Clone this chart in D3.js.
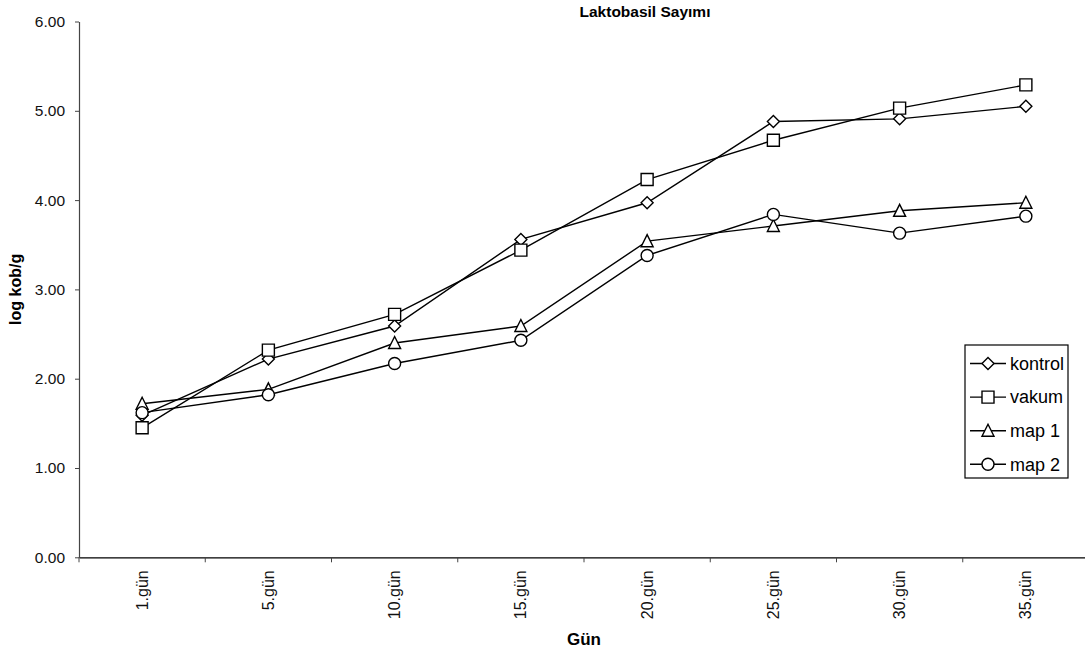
<!DOCTYPE html>
<html>
<head>
<meta charset="utf-8">
<script src="https://cdn.jsdelivr.net/npm/d3@7"></script>
<style>
  html, body { margin: 0; padding: 0; background: #fff; }
  svg { display: block; font-family: "Liberation Sans", Arial, sans-serif; }
</style>
</head>
<body>
<svg id="chart" width="1085" height="650"></svg>
<script>
// Sampling days (category axis)
const categories = ["1.gün", "5.gün", "10.gün", "15.gün", "20.gün", "25.gün", "30.gün", "35.gün"];

// Lactobacillus counts, log cfu/g
const kontrol = [1.59, 2.22, 2.59, 3.56, 3.97, 4.88, 4.91, 5.05];
const vakum   = [1.45, 2.32, 2.72, 3.44, 4.23, 4.67, 5.03, 5.29];
const map1    = [1.72, 1.88, 2.40, 2.59, 3.54, 3.71, 3.88, 3.97];
const map2    = [1.62, 1.82, 2.17, 2.43, 3.38, 3.84, 3.63, 3.82];

const seriesNames = ["kontrol", "vakum", "map 1", "map 2"];
const seriesShapes = ["diamond", "square", "triangle", "circle"];
const yTicks = [0, 1, 2, 3, 4, 5, 6];

const series = [kontrol, vakum, map1, map2].map((values, i) => ({
  name: seriesNames[i], shape: seriesShapes[i], values
}));

const svg = d3.select("#chart");

// Plot area (the category axis runs on past the right edge of the view)
const plot = { left: 79, right: 1089, top: 21.5, bottom: 557.3 };

const x = d3.scaleBand().domain(categories).range([plot.left, plot.right]).paddingInner(0).paddingOuter(0);
const y = d3.scaleLinear().domain([0, 6]).range([plot.bottom, plot.top]);
const cx = c => x(c) + x.bandwidth() / 2;

// Marker path generators, centred on 0,0
function markerPath(shape) {
  const s = 6;
  switch (shape) {
    case "diamond":  return `M0,${-s}L${s},0L0,${s}L${-s},0Z`;
    case "square":   return `M${-s},${-s}H${s}V${s}H${-s}Z`;
    case "triangle": return `M0,${-s - 0.5}L${s},${s - 0.5}L${-s},${s - 0.5}Z`;
    default:         return d3.arc()({ innerRadius: 0, outerRadius: s, startAngle: 0, endAngle: 2 * Math.PI });
  }
}

// Y axis
const yAxis = d3.axisLeft(y).tickValues(yTicks).tickFormat(d3.format(".2f")).tickSizeOuter(0).tickSizeInner(4).tickPadding(10);
const gy = svg.append("g").attr("transform", `translate(${plot.left},0)`).call(yAxis);
gy.select(".domain").attr("stroke", "#444").attr("stroke-width", 1.2);
gy.selectAll(".tick line").attr("stroke", "#444");
gy.selectAll(".tick text").attr("font-size", 15.5).attr("fill", "#111").attr("font-family", "Liberation Sans, Arial, sans-serif");

// X axis: ticks on category boundaries
const xAxis = d3.axisBottom(x).tickSize(0).tickFormat(d => d);
const gx = svg.append("g").attr("transform", `translate(0,${plot.bottom})`).call(xAxis);
gx.select(".domain").attr("stroke", "#000").attr("stroke-width", 1.2);
gx.selectAll(".tick text")
  .attr("font-size", 16).attr("fill", "#111").attr("font-family", "Liberation Sans, Arial, sans-serif")
  .attr("transform", "rotate(-90)")
  .attr("text-anchor", "end")
  .attr("x", -13).attr("y", 0).attr("dy", "0.35em");
svg.append("g").selectAll("line")
  .data(categories)
  .join("line")
  .attr("x1", d => x(d)).attr("x2", d => x(d))
  .attr("y1", plot.bottom).attr("y2", plot.bottom + 5)
  .attr("stroke", "#444").attr("stroke-width", 1);

// Series lines and markers
const line = d3.line().x((d, i) => cx(categories[i])).y(d => y(d));
const gs = svg.append("g").selectAll("g").data(series).join("g");
gs.append("path")
  .attr("d", d => line(d.values))
  .attr("fill", "none").attr("stroke", "#000").attr("stroke-width", 1.4);
gs.each(function (s) {
  d3.select(this).selectAll("path.m")
    .data(s.values)
    .join("path")
    .attr("class", "m")
    .attr("d", markerPath(s.shape))
    .attr("transform", (d, i) => `translate(${cx(categories[i])},${y(d)})`)
    .attr("fill", "#fff").attr("stroke", "#000").attr("stroke-width", 1.4);
});

// Titles
svg.append("text")
  .attr("x", 645).attr("y", 17)
  .attr("text-anchor", "middle").attr("font-weight", "bold").attr("font-size", 15.5)
  .text("Laktobasil Sayımı");
svg.append("text")
  .attr("x", (plot.left + plot.right) / 2).attr("y", 645)
  .attr("text-anchor", "middle").attr("font-weight", "bold").attr("font-size", 17)
  .text("Gün");
svg.append("text")
  .attr("transform", `translate(21,${(plot.top + plot.bottom) / 2}) rotate(-90)`)
  .attr("text-anchor", "middle").attr("font-weight", "bold").attr("font-size", 16)
  .text("log kob/g");

// Legend
const legend = { x: 965, y: 345, w: 103, h: 133 };
const lg = svg.append("g");
lg.append("rect")
  .attr("x", legend.x).attr("y", legend.y).attr("width", legend.w).attr("height", legend.h)
  .attr("fill", "#fff").attr("stroke", "#000").attr("stroke-width", 1.2);
const items = lg.selectAll("g").data(series).join("g")
  .attr("transform", (d, i) => `translate(${legend.x},${legend.y + 18.5 + i * 33.6})`);
items.append("line").attr("x1", 5).attr("x2", 41).attr("y1", 0).attr("y2", 0)
  .attr("stroke", "#000").attr("stroke-width", 1.4);
items.append("path").attr("d", d => markerPath(d.shape))
  .attr("transform", "translate(23,0)")
  .attr("fill", "#fff").attr("stroke", "#000").attr("stroke-width", 1.4);
items.append("text").attr("x", 45).attr("y", 0).attr("dy", "0.35em")
  .attr("font-size", 18).text(d => d.name);
</script>
</body>
</html>
